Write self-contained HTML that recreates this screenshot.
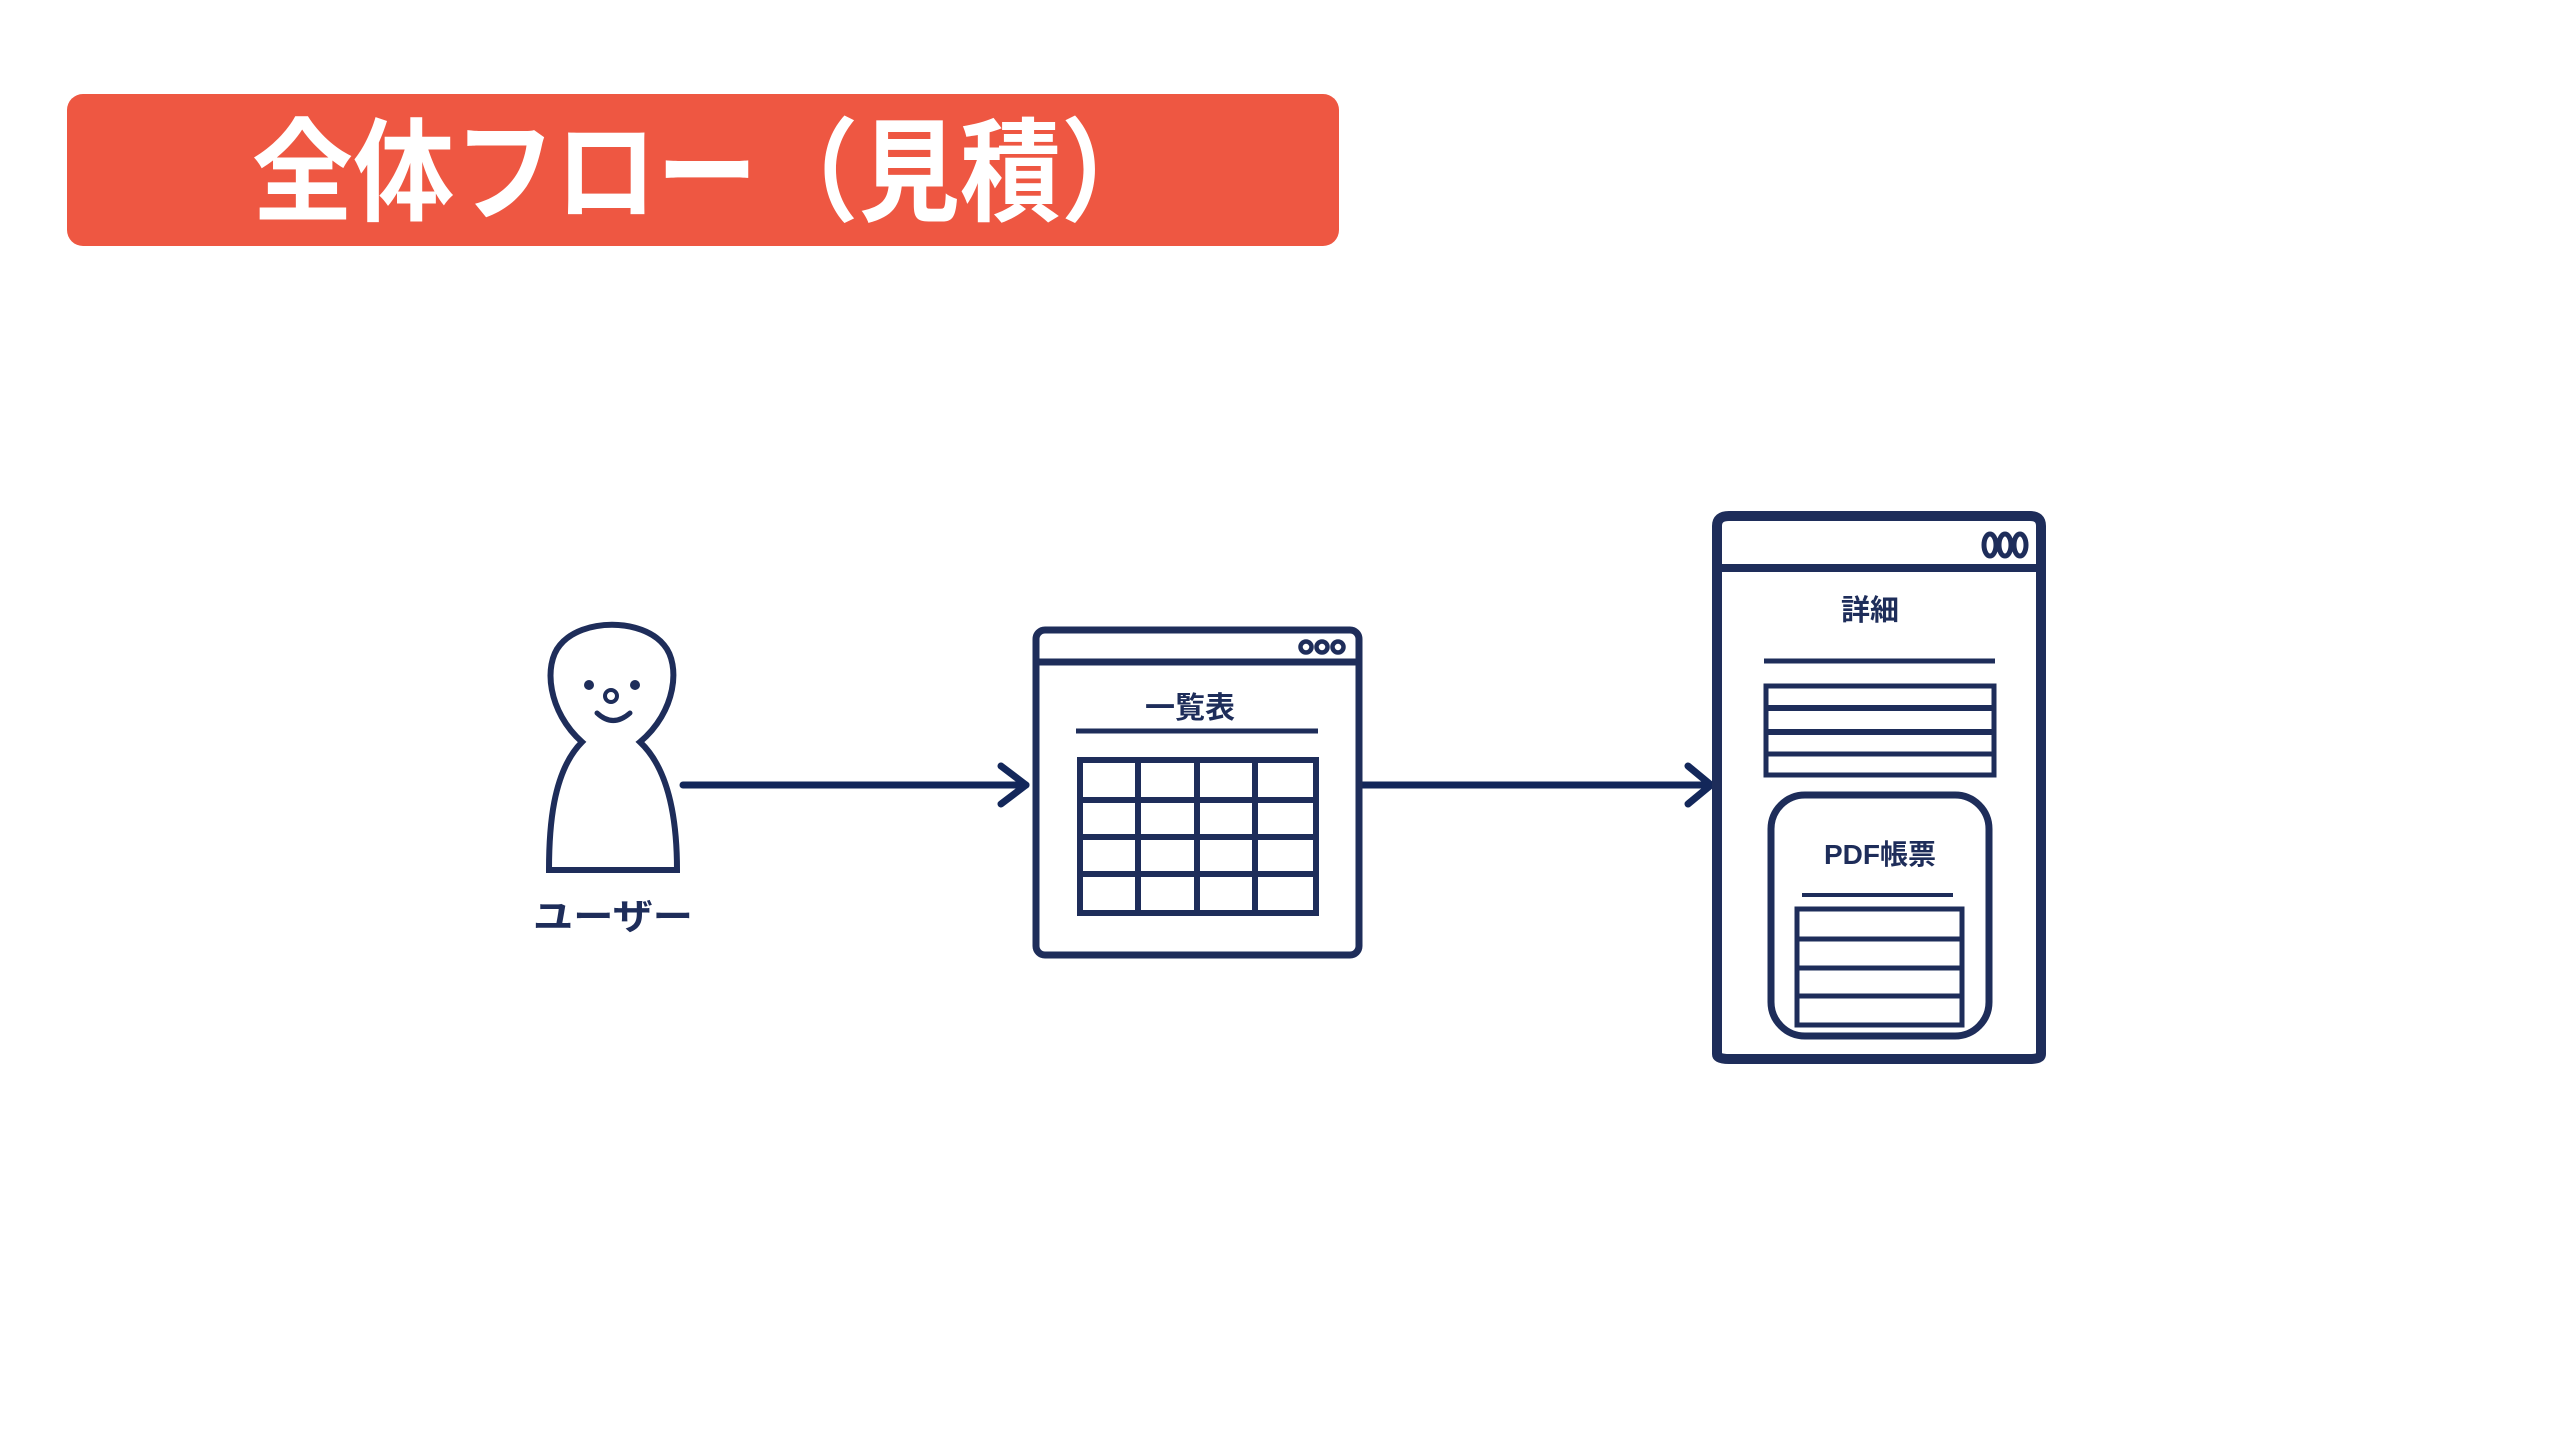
<!DOCTYPE html>
<html><head><meta charset="utf-8"><style>
html,body{margin:0;padding:0;background:#fff;}
svg{display:block;}
text{font-family:"Liberation Sans","Noto Sans CJK JP",sans-serif;font-weight:bold;}
</style></head><body>
<svg width="2560" height="1440" viewBox="0 0 2560 1440" xmlns="http://www.w3.org/2000/svg">
<rect width="2560" height="1440" fill="#fff"/>
<rect x="67" y="94" width="1272" height="152" rx="16" fill="#ee5742"/>
<text x="252" y="212" font-size="112" fill="#fff" textLength="910" lengthAdjust="spacingAndGlyphs">全体フロー（見積）</text>

<g fill="none" stroke="#1e2d5a" stroke-width="6">
<path d="M582,742 C548,712 543,665 560,645 C582,618 642,618 664,645 C681,665 676,712 640,742 C672,772 677,830 677,870 L549,870 C549,830 552,772 582,742 Z"/>
<circle cx="611" cy="696" r="6" stroke-width="4"/>
<path d="M597,713 Q613,728 630,713" stroke-width="5" stroke-linecap="round"/>
</g>
<g fill="#1e2d5a">
<circle cx="589" cy="685" r="5"/><circle cx="635" cy="685" r="5"/>
</g>
<text x="613" y="929" font-size="36" fill="#1e2d5a" text-anchor="middle" textLength="160" lengthAdjust="spacingAndGlyphs">ユーザー</text>

<g stroke="#13275a" stroke-width="7" fill="none" stroke-linecap="round" stroke-linejoin="round">
<line x1="683" y1="785" x2="1026" y2="785"/>
<polyline points="1001,766 1026,785 1001,804"/>
<line x1="1362" y1="785" x2="1711" y2="785"/>
<polyline points="1688,766 1711,785 1688,804"/>
</g>

<g stroke="#1e2d5a" fill="none" stroke-width="7">
<rect x="1036" y="630" width="323" height="325" rx="9"/>
<line x1="1036" y1="662" x2="1359" y2="662"/>
<rect x="1080" y="760" width="236" height="153" stroke-width="6"/>
<line x1="1138" y1="760" x2="1138" y2="913" stroke-width="6"/>
<line x1="1197" y1="760" x2="1197" y2="913" stroke-width="6"/>
<line x1="1255" y1="760" x2="1255" y2="913" stroke-width="6"/>
<line x1="1080" y1="800" x2="1316" y2="800" stroke-width="6"/>
<line x1="1080" y1="837" x2="1316" y2="837" stroke-width="6"/>
<line x1="1080" y1="874" x2="1316" y2="874" stroke-width="6"/>
<line x1="1076" y1="731" x2="1318" y2="731" stroke-width="5"/>
<circle cx="1306" cy="647" r="5.5" stroke-width="4.5"/>
<circle cx="1322" cy="647" r="5.5" stroke-width="4.5"/>
<circle cx="1338" cy="647" r="5.5" stroke-width="4.5"/>
</g>
<text x="1190" y="718" font-size="30" fill="#1e2d5a" text-anchor="middle">一覧表</text>

<g stroke="#1e2d5a" fill="none" stroke-width="8">
<path d="M1717,1054 L1717,526 Q1717,516 1729,516 L2030,516 Q2041,516 2041,526 L2041,1054 Q2041,1059 2030,1059 L1729,1059 Q1717,1059 1717,1054 Z" stroke-width="10"/>
<line x1="1718" y1="568" x2="2041" y2="568"/>
<ellipse cx="1990" cy="545" rx="6" ry="11" stroke-width="5"/>
<ellipse cx="2005" cy="545" rx="6" ry="11" stroke-width="5"/>
<ellipse cx="2020" cy="545" rx="6" ry="11" stroke-width="5"/>
<line x1="1764" y1="661" x2="1995" y2="661" stroke-width="5"/>
<rect x="1766" y="686" width="228" height="89" stroke-width="5"/>
<line x1="1766" y1="708" x2="1996" y2="708" stroke-width="6"/>
<line x1="1766" y1="732" x2="1996" y2="732" stroke-width="6"/>
<line x1="1766" y1="754" x2="1994" y2="754" stroke-width="5"/>
<rect x="1771" y="795" width="218" height="241" rx="34" stroke-width="7"/>
<line x1="1802" y1="895" x2="1953" y2="895" stroke-width="4"/>
<rect x="1797" y="909" width="165" height="116" stroke-width="5"/>
<line x1="1797" y1="939" x2="1964" y2="939" stroke-width="5"/>
<line x1="1797" y1="968" x2="1962" y2="968" stroke-width="5"/>
<line x1="1797" y1="996" x2="1962" y2="996" stroke-width="5"/>
</g>
<text x="1870" y="620" font-size="29" fill="#1e2d5a" text-anchor="middle">詳細</text>
<text x="1880" y="864" font-size="28" fill="#1e2d5a" text-anchor="middle">PDF帳票</text>
</svg>
</body></html>
